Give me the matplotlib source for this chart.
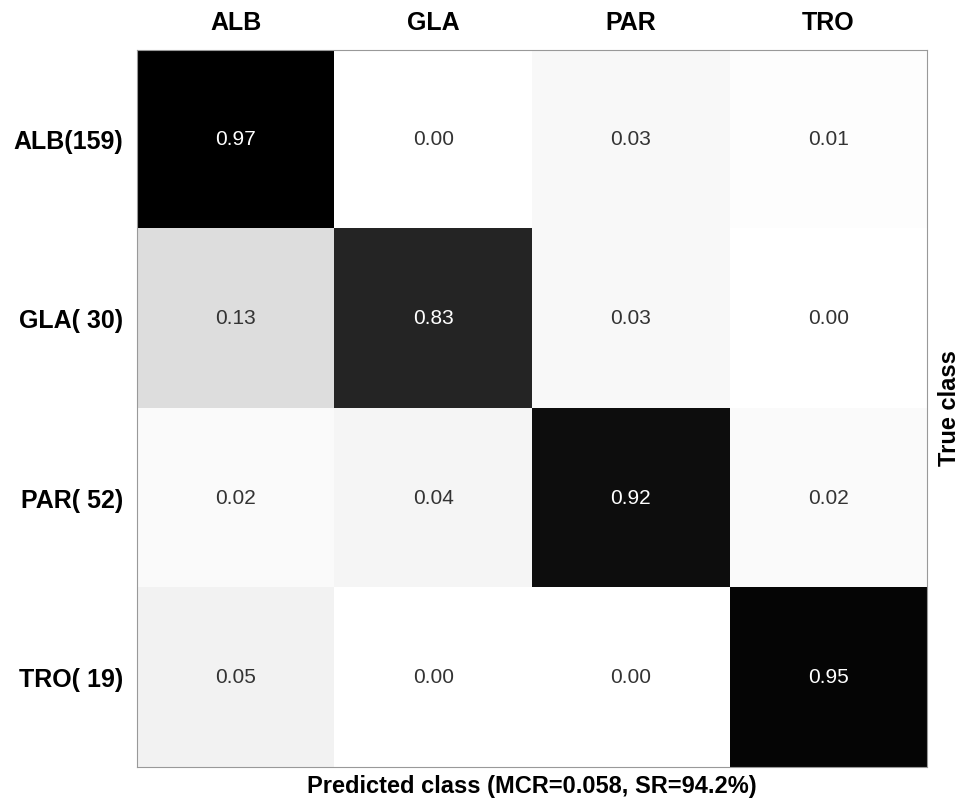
import matplotlib
matplotlib.use('Agg')
import matplotlib.pyplot as plt
import numpy as np

plt.rcParams['font.family'] = ['Liberation Sans', 'DejaVu Sans']

pred_classes = ['ALB', 'GLA', 'PAR', 'TRO']
true_labels = ['ALB(159)', 'GLA( 30)', 'PAR( 52)', 'TRO( 19)']

row_alb = [0.97, 0.00, 0.03, 0.01]
row_gla = [0.13, 0.83, 0.03, 0.00]
row_par = [0.02, 0.04, 0.92, 0.02]
row_tro = [0.05, 0.00, 0.00, 0.95]

cm = np.array([row_alb, row_gla, row_par, row_tro])

fig = plt.figure(figsize=(9.67, 8.01), dpi=100)
ax = fig.add_axes([0.1417, 0.0424, 0.8170, 0.8952])

ax.imshow(cm, cmap='gray_r', vmin=0, vmax=0.97, aspect='auto', interpolation='nearest')

for i in range(cm.shape[0]):
    for j in range(cm.shape[1]):
        val = cm[i, j]
        color = 'white' if val > 0.5 else '#333333'
        ax.text(j, i, f'{val:.2f}', ha='center', va='center', color=color, fontsize=15)

ax.set_xticks(range(4))
ax.set_xticklabels(pred_classes, fontsize=18, fontweight='bold')
ax.set_yticks(range(4))
ax.set_yticklabels(true_labels, fontsize=18, fontweight='bold')
ax.xaxis.tick_top()
ax.tick_params(which='major', length=0)
ax.tick_params(axis='y', pad=10)
ax.tick_params(axis='x', pad=11)

for s in ax.spines.values():
    s.set_color('#999999')
    s.set_linewidth(0.8)

ax.set_xlabel('Predicted class (MCR=0.058, SR=94.2%)', fontsize=17, fontweight='bold', labelpad=6)
ax.xaxis.set_label_position('bottom')
ax.set_ylabel('True class', fontsize=17, fontweight='bold', labelpad=8)
ax.yaxis.set_label_position('right')

fig.savefig('out.png', dpi=100)
